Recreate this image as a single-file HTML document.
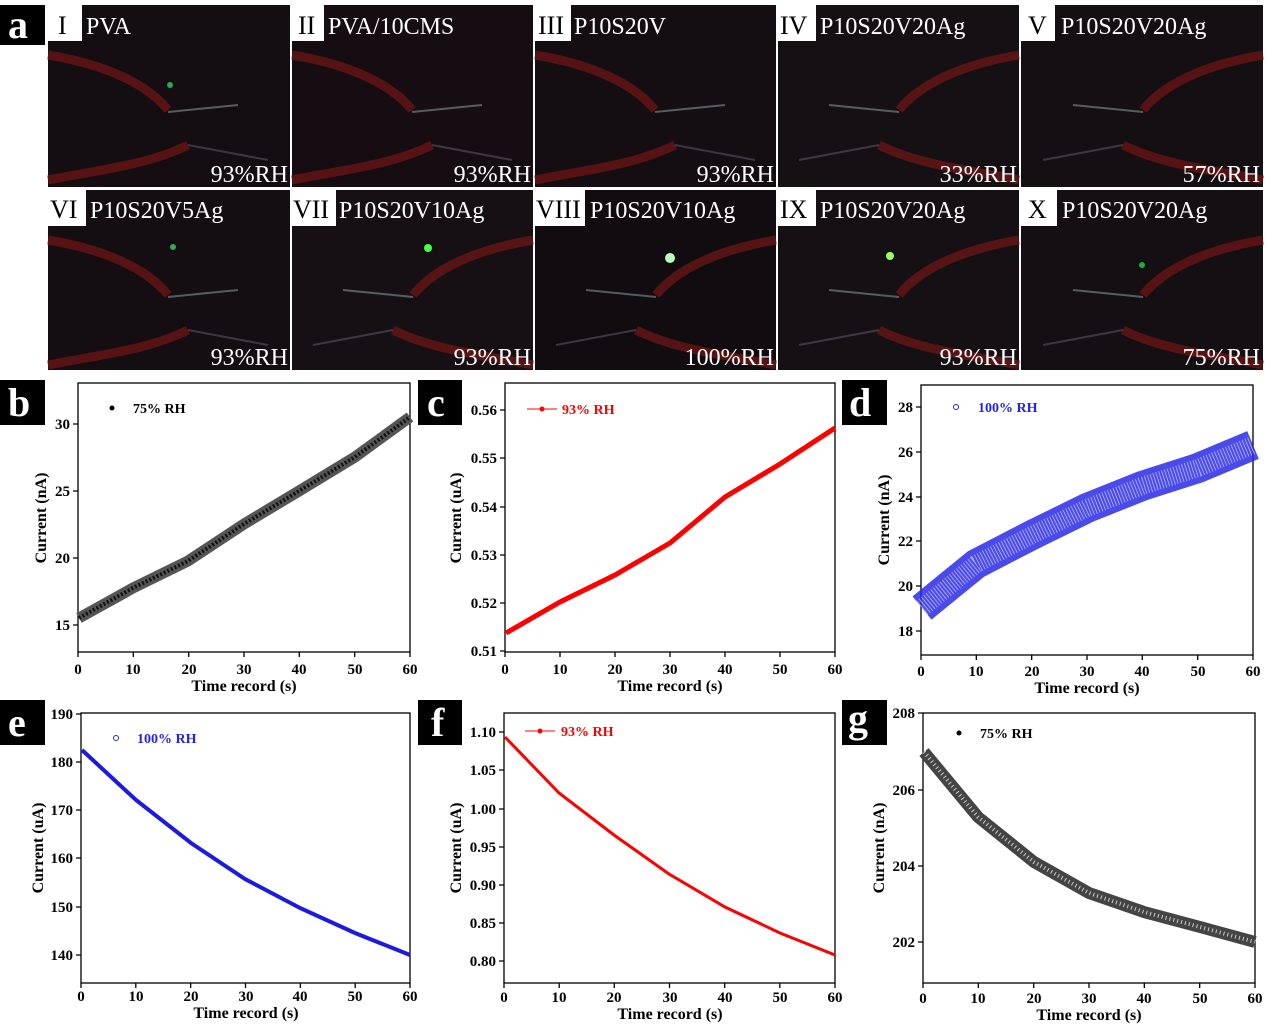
<!DOCTYPE html>
<html><head><meta charset="utf-8"><style>
body{margin:0;background:#fff;width:1270px;height:1025px;overflow:hidden}
svg{display:block}
.pl{font:bold 40px "Liberation Serif",serif;fill:#fff}
.rn{font:26px "Liberation Serif",serif;fill:#000}
.pt{font:24px "Liberation Serif",serif;fill:#fff}
.rh{font:24px "Liberation Serif",serif;fill:#fff;text-anchor:end}
.tk{font:bold 15px "Liberation Serif",serif;fill:#000}
.ax{font:bold 16px "Liberation Serif",serif;fill:#000}
.lg{font:bold 14px "Liberation Serif",serif}
</style></head><body>
<svg width="1270" height="1025" viewBox="0 0 1270 1025" xmlns="http://www.w3.org/2000/svg">
<defs>
<g id="wires">
<path d="M0,15 C60,25 100,45 120,70" stroke="#6e1616" stroke-width="9" fill="none" opacity="0.75"/>
<path d="M0,140 C50,130 100,125 140,105" stroke="#6e1616" stroke-width="9" fill="none" opacity="0.75"/>
<path d="M120,72 L190,65" stroke="#9aa" stroke-width="2" opacity="0.5"/>
<path d="M140,105 L220,120" stroke="#778" stroke-width="2" opacity="0.4"/>
</g>
</defs>
<rect x="0" y="5" width="45" height="40" fill="#000"/><text x="8" y="38" class="pl">a</text>
<g>
<rect x="48" y="5" width="242" height="182" fill="#140d11"/>
<rect x="292" y="5" width="241" height="182" fill="#150d11"/>
<rect x="535" y="5" width="241" height="182" fill="#140d11"/>
<rect x="778" y="5" width="241" height="182" fill="#151013"/>
<rect x="1021" y="5" width="242" height="182" fill="#140f12"/>
<rect x="48" y="190" width="242" height="180" fill="#140d11"/>
<rect x="292" y="190" width="241" height="180" fill="#161014"/>
<rect x="535" y="190" width="241" height="180" fill="#100c0f"/>
<rect x="778" y="190" width="241" height="180" fill="#151013"/>
<rect x="1021" y="190" width="242" height="180" fill="#140f12"/>
<use href="#wires" x="48" y="40"/><use href="#wires" x="292" y="40"/><use href="#wires" x="535" y="40"/>
<use href="#wires" x="48" y="225"/>
<g transform="translate(1019,40) scale(-1,1)"><use href="#wires"/></g>
<g transform="translate(1263,40) scale(-1,1)"><use href="#wires"/></g>
<g transform="translate(533,225) scale(-1,1)"><use href="#wires"/></g>
<g transform="translate(776,225) scale(-1,1)"><use href="#wires"/></g>
<g transform="translate(1019,225) scale(-1,1)"><use href="#wires"/></g>
<g transform="translate(1263,225) scale(-1,1)"><use href="#wires"/></g>
<circle cx="170" cy="85" r="3" fill="#2a5"/><circle cx="428" cy="248" r="4" fill="#4f4"/>
<circle cx="670" cy="258" r="5" fill="#bfb"/><circle cx="890" cy="256" r="4" fill="#9f6"/>
<circle cx="1142" cy="265" r="3" fill="#2a4"/><circle cx="173" cy="247" r="3" fill="#3a5"/>
</g>
<g>
<rect x="48" y="5" width="34" height="36" fill="#fff"/><text x="58" y="34" class="rn">I</text><text x="86" y="34" class="pt">PVA</text>
<rect x="292" y="5" width="32" height="36" fill="#fff"/><text x="298" y="34" class="rn">II</text><text x="328" y="34" class="pt">PVA/10CMS</text>
<rect x="535" y="5" width="36" height="36" fill="#fff"/><text x="538" y="34" class="rn">III</text><text x="574" y="34" class="pt">P10S20V</text>
<rect x="778" y="5" width="38" height="36" fill="#fff"/><text x="780" y="34" class="rn">IV</text><text x="820" y="34" class="pt">P10S20V20Ag</text>
<rect x="1021" y="5" width="34" height="36" fill="#fff"/><text x="1028" y="34" class="rn">V</text><text x="1061" y="34" class="pt">P10S20V20Ag</text>
<rect x="48" y="190" width="38" height="36" fill="#fff"/><text x="50" y="218" class="rn">VI</text><text x="90" y="218" class="pt">P10S20V5Ag</text>
<rect x="292" y="190" width="44" height="36" fill="#fff"/><text x="293" y="218" class="rn">VII</text><text x="339" y="218" class="pt">P10S20V10Ag</text>
<rect x="535" y="190" width="50" height="36" fill="#fff"/><text x="536" y="218" class="rn">VIII</text><text x="590" y="218" class="pt">P10S20V10Ag</text>
<rect x="778" y="190" width="38" height="36" fill="#fff"/><text x="780" y="218" class="rn">IX</text><text x="820" y="218" class="pt">P10S20V20Ag</text>
<rect x="1021" y="190" width="36" height="36" fill="#fff"/><text x="1028" y="218" class="rn">X</text><text x="1062" y="218" class="pt">P10S20V20Ag</text>
<text x="288" y="182" class="rh">93%RH</text><text x="531" y="182" class="rh">93%RH</text><text x="774" y="182" class="rh">93%RH</text>
<text x="1017" y="182" class="rh">33%RH</text><text x="1260" y="182" class="rh">57%RH</text>
<text x="288" y="365" class="rh">93%RH</text><text x="531" y="365" class="rh">93%RH</text><text x="774" y="365" class="rh">100%RH</text>
<text x="1017" y="365" class="rh">93%RH</text><text x="1260" y="365" class="rh">75%RH</text>
</g>

<rect x="0" y="380" width="45" height="45" fill="#000"/><text x="8" y="416" class="pl">b</text>
<rect x="418" y="380" width="44" height="45" fill="#000"/><text x="427" y="416" class="pl">c</text>
<rect x="842" y="380" width="45" height="45" fill="#000"/><text x="849" y="416" class="pl">d</text>
<rect x="0" y="700" width="45" height="45" fill="#000"/><text x="8" y="736" class="pl">e</text>
<rect x="418" y="700" width="44" height="45" fill="#000"/><text x="431" y="736" class="pl">f</text>
<rect x="842" y="700" width="45" height="45" fill="#000"/><text x="848" y="732" class="pl">g</text>

<g stroke="#000" stroke-width="1.3" fill="none">
<rect x="78" y="383" width="332" height="269"/>
<rect x="505" y="383" width="330" height="269"/>
<rect x="921" y="385" width="332" height="270"/>
<rect x="81" y="713" width="329" height="270"/>
<rect x="504" y="713" width="331" height="270"/>
<rect x="923" y="713" width="332" height="270"/>
<path d="M78,652v5M133.3,652v5M188.7,652v5M244,652v5M299.3,652v5M354.7,652v5M410,652v5"/>
<path d="M505,652v5M560,652v5M615,652v5M670,652v5M725,652v5M780,652v5M835,652v5"/>
<path d="M921,655v5M976.3,655v5M1031.7,655v5M1087,655v5M1142.3,655v5M1197.7,655v5M1253,655v5"/>
<path d="M81,983v5M135.8,983v5M190.7,983v5M245.5,983v5M300.3,983v5M355.2,983v5M410,983v5"/>
<path d="M504,983v5M559.2,983v5M614.3,983v5M669.5,983v5M724.7,983v5M779.8,983v5M835,983v5"/>
<path d="M923,983v5M978.3,983v5M1033.7,983v5M1089,983v5M1144.3,983v5M1199.7,983v5M1255,983v5"/>
<path d="M78,625h-5M78,558h-5M78,491h-5M78,424h-5"/>
<path d="M505,651h-5M505,603h-5M505,555h-5M505,507h-5M505,458h-5M505,410h-5"/>
<path d="M921,631h-5M921,586h-5M921,541h-5M921,497h-5M921,452h-5M921,407h-5"/>
<path d="M81,955h-5M81,907h-5M81,858h-5M81,810h-5M81,762h-5M81,714h-5"/>
<path d="M504,961h-5M504,923h-5M504,885h-5M504,847h-5M504,809h-5M504,770h-5M504,732h-5"/>
<path d="M923,942h-5M923,866h-5M923,790h-5M923,713h-5"/>
</g>

<path d="M79,618 L133,588 L188,561 L244,524 L299,491 L355,457 L410,417" stroke="#555" stroke-width="11" fill="none"/>
<path d="M79,618 L133,588 L188,561 L244,524 L299,491 L355,457 L410,417" stroke="#111" stroke-width="4" stroke-dasharray="2 2" fill="none"/>
<path d="M506,633 L560,602 L615,575 L670,543 L725,497 L780,464 L835,428" stroke="#f00" stroke-width="5" fill="none"/>
<path d="M922,608 L976,564 L1032,535 L1087,508 L1142,486 L1198,468 L1253,445" stroke="#2a2ae8" stroke-width="30" fill="none" opacity="0.85"/>
<path d="M922,608 L976,564 L1032,535 L1087,508 L1142,486 L1198,468 L1253,445" stroke="#fff" stroke-width="18" stroke-dasharray="1 2" fill="none" opacity="0.5"/>
<path d="M82,750 L136,800 L191,843 L245,879 L300,908 L355,933 L410,955" stroke="#1a1ae0" stroke-width="4" fill="none"/>
<path d="M505,737 L559,793 L614,835 L669,874 L725,907 L780,933 L835,955" stroke="#f00" stroke-width="3" fill="none"/>
<path d="M924,752 L978,817 L1034,862 L1089,893 L1144,912 L1200,927 L1255,942" stroke="#444" stroke-width="12" fill="none"/>
<path d="M924,752 L978,817 L1034,862 L1089,893 L1144,912 L1200,927 L1255,942" stroke="#ccc" stroke-width="4" stroke-dasharray="1 3" fill="none"/>

<circle cx="112" cy="408" r="2.5" fill="#000"/><text x="133" y="413" class="lg" fill="#000">75% RH</text>
<path d="M527,409h30" stroke="#f00"/><circle cx="542" cy="409" r="2.5" fill="#f00"/><text x="562" y="414" class="lg" fill="#f00">93% RH</text>
<circle cx="956" cy="407" r="2.5" fill="none" stroke="#22e"/><text x="978" y="412" class="lg" fill="#22e">100% RH</text>
<circle cx="116" cy="738" r="2.5" fill="none" stroke="#22e"/><text x="137" y="743" class="lg" fill="#22e">100% RH</text>
<path d="M525,731h30" stroke="#f00"/><circle cx="540" cy="731" r="2.5" fill="#f00"/><text x="561" y="736" class="lg" fill="#f00">93% RH</text>
<circle cx="959" cy="733" r="2.5" fill="#000"/><text x="980" y="738" class="lg" fill="#000">75% RH</text>

<g class="tk" text-anchor="middle">
<text x="78" y="674">0</text><text x="133" y="674">10</text><text x="189" y="674">20</text><text x="244" y="674">30</text><text x="299" y="674">40</text><text x="355" y="674">50</text><text x="410" y="674">60</text>
<text x="505" y="674">0</text><text x="560" y="674">10</text><text x="615" y="674">20</text><text x="670" y="674">30</text><text x="725" y="674">40</text><text x="780" y="674">50</text><text x="835" y="674">60</text>
<text x="921" y="676">0</text><text x="976" y="676">10</text><text x="1032" y="676">20</text><text x="1087" y="676">30</text><text x="1142" y="676">40</text><text x="1198" y="676">50</text><text x="1253" y="676">60</text>
<text x="81" y="1001">0</text><text x="136" y="1001">10</text><text x="191" y="1001">20</text><text x="246" y="1001">30</text><text x="300" y="1001">40</text><text x="355" y="1001">50</text><text x="410" y="1001">60</text>
<text x="504" y="1002">0</text><text x="559" y="1002">10</text><text x="614" y="1002">20</text><text x="670" y="1002">30</text><text x="725" y="1002">40</text><text x="780" y="1002">50</text><text x="835" y="1002">60</text>
<text x="923" y="1003">0</text><text x="978" y="1003">10</text><text x="1034" y="1003">20</text><text x="1089" y="1003">30</text><text x="1144" y="1003">40</text><text x="1200" y="1003">50</text><text x="1255" y="1003">60</text>
</g>
<g class="tk" text-anchor="end">
<text x="70" y="630">15</text><text x="70" y="563">20</text><text x="70" y="496">25</text><text x="70" y="429">30</text>
<text x="497" y="656">0.51</text><text x="497" y="608">0.52</text><text x="497" y="560">0.53</text><text x="497" y="512">0.54</text><text x="497" y="463">0.55</text><text x="497" y="415">0.56</text>
<text x="913" y="636">18</text><text x="913" y="591">20</text><text x="913" y="546">22</text><text x="913" y="502">24</text><text x="913" y="457">26</text><text x="913" y="412">28</text>
<text x="73" y="960">140</text><text x="73" y="912">150</text><text x="73" y="863">160</text><text x="73" y="815">170</text><text x="73" y="767">180</text><text x="73" y="719">190</text>
<text x="496" y="966">0.80</text><text x="496" y="928">0.85</text><text x="496" y="890">0.90</text><text x="496" y="852">0.95</text><text x="496" y="814">1.00</text><text x="496" y="775">1.05</text><text x="496" y="737">1.10</text>
<text x="915" y="947">202</text><text x="915" y="871">204</text><text x="915" y="795">206</text><text x="915" y="718">208</text>
</g>
<g class="ax" text-anchor="middle">
<text x="244" y="691">Time record (s)</text><text x="670" y="691">Time record (s)</text><text x="1087" y="693">Time record (s)</text>
<text x="246" y="1018">Time record (s)</text><text x="670" y="1019">Time record (s)</text><text x="1089" y="1020">Time record (s)</text>
<text transform="translate(46,518) rotate(-90)">Current (nA)</text>
<text transform="translate(461,518) rotate(-90)">Current (uA)</text>
<text transform="translate(889,520) rotate(-90)">Current (nA)</text>
<text transform="translate(43,848) rotate(-90)">Current (uA)</text>
<text transform="translate(461,848) rotate(-90)">Current (uA)</text>
<text transform="translate(884,848) rotate(-90)">Current (nA)</text>
</g>
</svg>
</body></html>
